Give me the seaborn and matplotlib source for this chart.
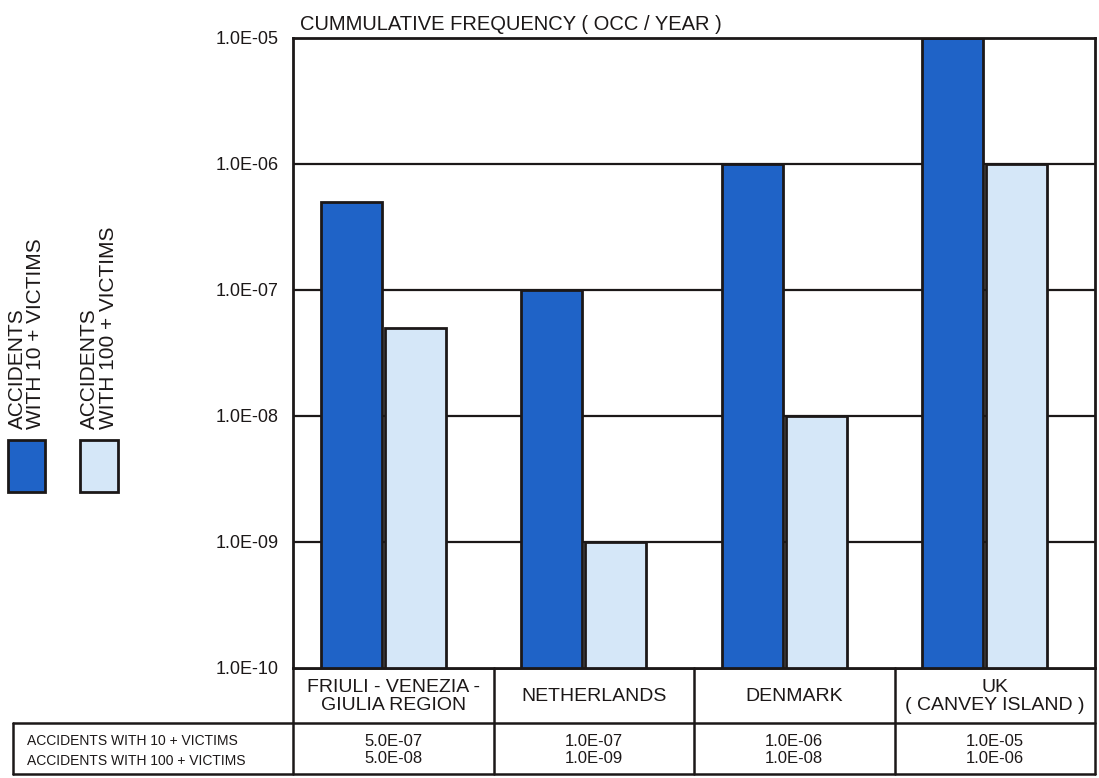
import matplotlib
matplotlib.use("Agg")
import matplotlib.pyplot as plt
import seaborn as sns
import pandas as pd
from matplotlib.patches import Rectangle
from matplotlib.lines import Line2D

# Data
regions = ["FRIULI - VENEZIA -\nGIULIA REGION", "NETHERLANDS", "DENMARK",
           "UK\n( CANVEY ISLAND )"]
series_names = ["ACCIDENTS WITH 10 + VICTIMS", "ACCIDENTS WITH 100 + VICTIMS"]
freq_10 = [5.0e-07, 1.0e-07, 1.0e-06, 1.0e-05]
freq_100 = [5.0e-08, 1.0e-09, 1.0e-08, 1.0e-06]
tick_labels = ["1.0E-10", "1.0E-09", "1.0E-08", "1.0E-07", "1.0E-06", "1.0E-05"]
title = "CUMMULATIVE FREQUENCY ( OCC / YEAR )"
legend_labels = ["ACCIDENTS\nWITH 10 + VICTIMS", "ACCIDENTS\nWITH 100 + VICTIMS"]

dark_blue = "#1f63c7"
light_blue = "#d5e7f8"
ink = "#1c1818"

df = pd.DataFrame({
    "region": regions * 2,
    "series": [series_names[0]] * 4 + [series_names[1]] * 4,
    "freq": freq_10 + freq_100,
})

sns.set_theme(style="white")
plt.rcParams["font.family"] = ["Liberation Sans", "DejaVu Sans"]

W, H = 1099, 778
fig = plt.figure(figsize=(W / 100, H / 100), dpi=100)
fig.patch.set_facecolor("white")

def fx(px):
    return px / W

def fy(py):
    return 1 - py / H

ax = fig.add_axes([fx(293), fy(668), fx(1095) - fx(293), fy(38) - fy(668)])

sns.barplot(data=df, x="region", y="freq", hue="series", order=regions,
            hue_order=series_names, palette=[dark_blue, light_blue],
            width=0.64, gap=0.05, saturation=1, edgecolor=ink, linewidth=2,
            legend=False, ax=ax, zorder=3)
ax.set_yscale("log")

ticks = [float(t) for t in tick_labels]
ax.set_ylim(ticks[0], ticks[-1])
ax.set_xlim(-0.45, 3.55)
ax.yaxis.set_major_locator(matplotlib.ticker.FixedLocator(ticks))
ax.yaxis.set_major_formatter(matplotlib.ticker.FixedFormatter(tick_labels))
ax.yaxis.set_minor_locator(matplotlib.ticker.NullLocator())
ax.tick_params(axis="y", length=0, pad=10.5, labelsize=13, labelcolor=ink)
ax.set_xticks([])
ax.set_xlabel("")
ax.set_ylabel("")
for t in ticks[1:-1]:
    ax.axhline(t, color=ink, lw=1.6, zorder=1)
for s in ax.spines.values():
    s.set_visible(True)
    s.set_color(ink)
    s.set_linewidth(2)
    s.set_zorder(4)

fig.text(fx(300), fy(30), title, fontsize=14.5, color=ink, ha="left",
         va="baseline")

# Table under the axes, sharing the category columns
tab = fig.add_axes([fx(293), fy(775), fx(1095) - fx(293), fy(668) - fy(775)])
tab.set_xlim(0, 4)
tab.set_ylim(0, 107)
tab.axis("off")
row_split = 107 - 55
lw = 1.8
left_edge = -280 / 200.5
tab.add_line(Line2D([0, 4], [107, 107], color=ink, lw=lw))
tab.add_line(Line2D([left_edge, 4], [row_split, row_split], color=ink,
                    lw=lw, clip_on=False))
tab.add_line(Line2D([left_edge, 4], [0.8, 0.8], color=ink, lw=lw,
                    clip_on=False))
tab.add_line(Line2D([left_edge, left_edge], [0.8, row_split], color=ink,
                    lw=lw, clip_on=False))
for c in range(5):
    tab.add_line(Line2D([c, c], [0.8, 107], color=ink, lw=lw, clip_on=False))

for i, name in enumerate(regions):
    tab.text(i + 0.5, row_split + 26.5, name, ha="center", va="center",
             fontsize=14, color=ink, linespacing=1.15)
    tab.text(i + 0.5, row_split / 2 - 1,
             f"{freq_10[i]:.1E}\n{freq_100[i]:.1E}",
             ha="center", va="center", fontsize=12, color=ink,
             linespacing=1.2)
tab.text(-266 / 200.5, row_split / 2 - 2, "\n".join(series_names), ha="left",
         va="center", fontsize=10, color=ink, linespacing=1.55)

# Legend: swatches with rotated captions
for (x0, x1), col, lab in zip([(8, 45), (80, 118)], [dark_blue, light_blue],
                              legend_labels):
    fig.patches.append(Rectangle((fx(x0), fy(492)), fx(x1) - fx(x0),
                                 fy(440) - fy(492), transform=fig.transFigure,
                                 facecolor=col, edgecolor=ink, lw=2))
    fig.text(fx((x0 + x1) / 2), fy(429), lab, rotation=90, ha="center",
             va="bottom", multialignment="left", fontsize=15, color=ink,
             linespacing=0.95)

fig.savefig("out.png", dpi=100, facecolor="white")
